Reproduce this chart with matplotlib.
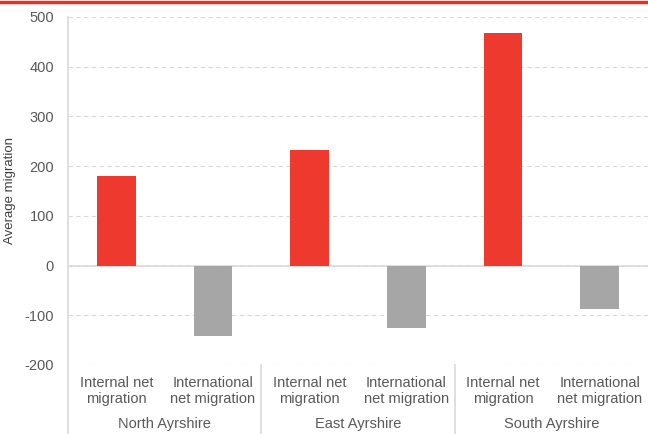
import matplotlib
matplotlib.use("Agg")
import matplotlib.pyplot as plt
from matplotlib.transforms import blended_transform_factory
from matplotlib.lines import Line2D

plt.rcParams['font.family'] = ['Liberation Sans', 'DejaVu Sans']
plt.rcParams['axes.unicode_minus'] = False

# data
groups = ["North Ayrshire", "East Ayrshire", "South Ayrshire"]
measures = ["Internal net\nmigration", "International\nnet migration"]
internal = [181, 233, 468]
international = [-141, -125, -87]

red = "#EE3A2E"
grey = "#A6A6A6"
text_col = "#595959"

fig = plt.figure(figsize=(6.48, 4.34), dpi=100)
ax = fig.add_axes([68 / 648, 1 - 365 / 434, 1 - 68 / 648, (365 - 17) / 434])

values, colors, labels = [], [], []
for i in range(len(groups)):
    values += [internal[i], international[i]]
    colors += [red, grey]
    labels += measures
x = list(range(len(values)))

ax.bar(x, values, width=0.4, color=colors, zorder=3)

ax.set_xlim(-0.5, len(values) - 0.5)
ax.set_ylim(-200, 500)
ax.set_yticks(range(-200, 501, 100))
ax.yaxis.grid(True, linestyle=(0, (4, 3)), color="#D9D9D9", linewidth=0.8)
ax.axhline(0, color="#D9D9D9", linewidth=1.2, zorder=2)

for s in ["top", "right", "bottom", "left"]:
    ax.spines[s].set_visible(False)
ax.tick_params(axis="y", length=0, labelsize=10.5, labelcolor=text_col, pad=10)
ax.tick_params(axis="x", length=0)
ax.set_xticks(x)
ax.set_xticklabels(labels, fontsize=10.5, color=text_col, linespacing=1.15)
ax.tick_params(axis="x", pad=8)

ax.set_ylabel("Average migration", fontsize=9.5, color="#404040", labelpad=6)

# group labels and separators below the axis
tr = blended_transform_factory(ax.transData, fig.transFigure)
for i, g in enumerate(groups):
    fig.text(2 * i + 0.5, 1 - 424 / 434, g, transform=tr, fontsize=10.5,
             color=text_col, ha="center", va="center")
for xs in [-0.5, 1.5, 3.5]:
    top = 1 - 17 / 434 if xs == -0.5 else 1 - 365 / 434
    fig.add_artist(Line2D([xs, xs], [0, top], transform=tr, color="#D9D9D9",
                          linewidth=1.2))

# red rule at the top
fig.add_artist(Line2D([0, 1], [1 - 1.5 / 434, 1 - 1.5 / 434],
                      transform=fig.transFigure, color="#E8302A", linewidth=2.5))

fig.savefig("out.png", dpi=100)
